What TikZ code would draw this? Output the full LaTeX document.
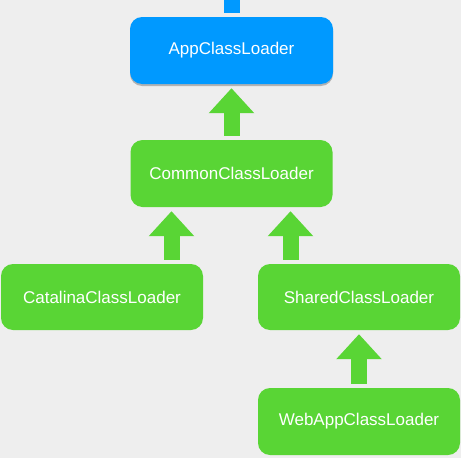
\documentclass[tikz,border=0pt]{standalone}
\usepackage{fontspec}
\setmainfont{Liberation Sans}
\usetikzlibrary{arrows.meta,shadows}
\definecolor{appblue}{HTML}{0099FF}
\definecolor{loadergreen}{HTML}{59D535}
\definecolor{bggray}{HTML}{EEEEEE}
\tikzset{
  loader/.style={fill=loadergreen, rounded corners=12pt, minimum width=202pt, minimum height=66pt,
    text=white, font=\fontsize{17}{20}\selectfont, inner sep=0pt},
  upto/.style={draw=loadergreen, line width=16pt, shorten <=4pt, shorten >=4pt,
    -{Triangle[width=44pt,length=25pt]}},
}
\begin{document}
\begin{tikzpicture}[x=1pt,y=-1pt]
  \useasboundingbox (0,0) rectangle (461,458);
  \fill[bggray] (0,0) rectangle (461,458);
  % loaders
  \node[loader, fill=appblue, minimum width=203pt, minimum height=67pt,
    drop shadow={shadow xshift=0pt, shadow yshift=-2pt, opacity=0.25, fill=black}] (app) at (231.5,50.5) {AppClassLoader};
  \node[loader, minimum height=67pt] (common) at (231.5,173.5) {CommonClassLoader};
  \node[loader] (catalina) at (102,297) {CatalinaClassLoader};
  \node[loader] (shared) at (359,297) {SharedClassLoader};
  \node[loader, minimum height=67pt] (webapp) at (359,421.5) {WebAppClassLoader};
  % parent links
  \coordinate (top) at (231.5,-2);
  \draw[appblue, line width=16pt, line cap=butt] ([yshift=4pt]app.north) -- (top);
  \draw[upto] (common.north) -- (app.south);
  \coordinate (cl) at ([xshift=-60pt]common.south);
  \coordinate (cr) at ([xshift=59pt]common.south);
  \draw[upto] (cl |- catalina.north) -- (cl);
  \draw[upto] (cr |- shared.north) -- (cr);
  \draw[upto] (webapp.north) -- (shared.south);
\end{tikzpicture}
\end{document}
